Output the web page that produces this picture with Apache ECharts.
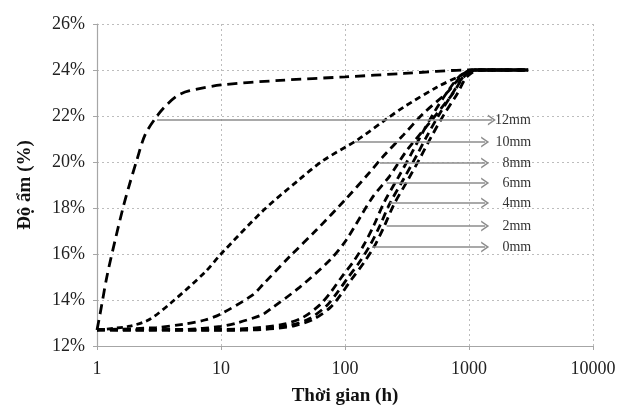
<!DOCTYPE html>
<html>
<head>
<meta charset="utf-8">
<script src="https://cdn.jsdelivr.net/npm/echarts@6/dist/echarts.min.js"></script>
<style>
  html, body { margin: 0; padding: 0; background: #fff; }
  #main { width: 632px; height: 416px; }
</style>
</head>
<body>
<div id="main"></div>
<script>
// ---- data (x = hours, y = %) ----
var curve12 = [[1,12.7],[1.06,13.4],[1.2,15.0],[1.4,16.6],[1.62,18.0],[1.8,18.9],[2.1,20.1],[2.45,21.2],[3.05,22.0],[3.67,22.5],[4.5,22.9],[5.6,23.1],[10,23.35],[30,23.55],[100,23.7],[300,23.85],[1000,24],[3000,24]];
var curve10 = [[1,12.7],[1.78,12.85],[2.6,13.13],[4,13.9],[7.4,15.2],[10,16.0],[22,17.9],[42,19.2],[66,20.05],[125,20.95],[220,21.9],[300,22.4],[550,23.25],[850,23.75],[1050,24],[3000,24]];
var curve8 = [[1,12.7],[3,12.8],[5,12.95],[7.4,13.13],[10,13.4],[17.8,14.2],[22,14.7],[36,15.9],[59,17.05],[100,18.35],[158,19.55],[200,20.2],[295,21.17],[427,22.1],[660,23.0],[1050,24],[3000,24]];
var curve6 = [[1,12.7],[5,12.72],[10,12.85],[13.4,13.0],[21.3,13.35],[25,13.6],[43,14.55],[76,15.75],[102,16.6],[166,18.45],[230,19.4],[315,20.5],[480,21.7],[700,22.8],[1100,24],[3000,24]];
var curve4 = [[1,12.7],[10,12.72],[18,12.78],[32,12.95],[46,13.25],[63,13.8],[77,14.35],[94,15.0],[118,15.7],[142,16.4],[171,17.25],[207,18.25],[270,19.35],[342,20.35],[410,21.15],[522,22.15],[670,23.05],[850,23.75],[1100,24],[3000,24]];
var curve2 = [[1,12.7],[10,12.7],[20,12.75],[36,12.9],[52,13.2],[71,13.75],[86,14.3],[105,14.95],[131,15.65],[158,16.35],[190,17.2],[230,18.2],[300,19.3],[380,20.3],[455,21.1],[580,22.1],[740,23.0],[900,23.7],[1150,24],[3000,24]];
var curve0 = [[1,12.7],[10,12.68],[22,12.72],[39,12.88],[56,13.17],[77,13.7],[93,14.25],[113,14.9],[141,15.6],[171,16.3],[205,17.15],[248,18.15],[324,19.25],[410,20.25],[491,21.05],[626,22.05],[800,22.95],[960,23.7],[1200,24],[3000,24]];

// arrows with labels
var arrowLabels = ['12mm', '10mm', '8mm', '6mm', '4mm', '2mm', '0mm'];
var arrowY = [21.83, 20.87, 19.96, 19.09, 18.22, 17.22, 16.3];
var arrowStart = [3.05, 120, 191, 217, 230, 217, 165];
var arrowEnd = [1530, 1350, 1350, 1350, 1350, 1350, 1350];

var xTicks = [1, 10, 100, 1000, 10000];
var serif = "'Liberation Serif', 'Times New Roman', serif";

var myChart = echarts.init(document.getElementById('main'));

function curve(name, data, dash) {
  return {
    name: name,
    type: 'line',
    data: data,
    smooth: 0.3,
    showSymbol: false,
    silent: true,
    lineStyle: { color: '#000', width: 2.8, type: dash }
  };
}

// the 12mm arrow is longer, so its label sits closer to the tip
var arrowData = arrowLabels.map(function (lab, i) {
  var first = { name: lab, coord: [arrowStart[i], arrowY[i]] };
  if (i === 0) first.label = { distance: 1 };
  return [first, { coord: [arrowEnd[i], arrowY[i]] }];
});

var series = [
  curve('12mm', curve12, [10, 6]),
  curve('10mm', curve10, [6, 4]),
  curve('8mm', curve8, [8, 5]),
  curve('6mm', curve6, [8, 5]),
  curve('4mm', curve4, [8, 5]),
  curve('2mm', curve2, [8, 5]),
  curve('0mm', curve0, [8, 5])
];

series[0].markLine = {
  silent: true,
  animation: false,
  symbol: ['none', 'path://M0,10 L5,0 L10,10 L8.4,10 L5,3.2 L1.6,10 Z'],
  symbolSize: [11, 8],
  lineStyle: { color: '#8c8c8c', width: 1.6, type: 'solid' },
  label: {
    show: true,
    position: 'end',
    distance: 8,
    formatter: function (p) { return '{t|' + p.name + '}'; },
    rich: {
      t: { width: 38, align: 'right', fontSize: 14, fontFamily: serif, color: '#333' }
    }
  },
  data: arrowData
};

var option = {
  animation: false,
  grid: { left: 97, right: 39, top: 24, bottom: 70 },
  xAxis: {
    type: 'log',
    logBase: 10,
    min: 1,
    max: 10000,
    name: 'Thời gian (h)',
    nameLocation: 'middle',
    nameGap: 41,
    nameTextStyle: { fontFamily: serif, fontSize: 19, fontWeight: 'bold', color: '#111' },
    axisLine: { lineStyle: { color: '#a6a6a6', width: 1.2 } },
    axisTick: { show: true, length: 4, lineStyle: { color: '#a6a6a6' } },
    axisLabel: {
      margin: 14,
      fontFamily: serif,
      fontSize: 18,
      color: '#222',
      formatter: function (v) { return xTicks.indexOf(Math.round(v)) >= 0 ? String(Math.round(v)) : ''; }
    },
    splitLine: { show: true, lineStyle: { color: '#bdbdbd', type: [2, 3], width: 1 } },
    minorTick: { show: false }
  },
  yAxis: {
    type: 'value',
    min: 12,
    max: 26,
    interval: 2,
    name: 'Độ ẩm (%)',
    nameLocation: 'middle',
    nameGap: 62,
    nameTextStyle: { fontFamily: serif, fontSize: 19, fontWeight: 'bold', color: '#111' },
    axisLine: { show: true, lineStyle: { color: '#a6a6a6', width: 1.2 } },
    axisTick: { show: true, length: 4, lineStyle: { color: '#a6a6a6' } },
    axisLabel: {
      margin: 12,
      fontFamily: serif,
      fontSize: 18,
      color: '#222',
      formatter: '{value}%'
    },
    splitLine: { show: true, lineStyle: { color: '#bdbdbd', type: [2, 3], width: 1 } }
  },
  series: series
};

myChart.setOption(option);
</script>
</body>
</html>
